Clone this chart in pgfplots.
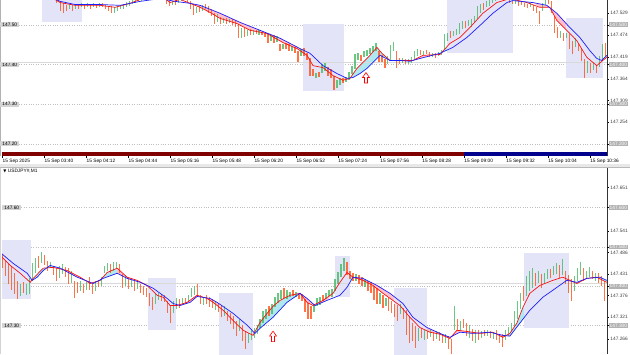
\documentclass[border=0pt]{standalone}
\usepackage{fontspec}
\setmainfont{Liberation Sans}
\newfontfamily\dejavu{DejaVu Sans}
\usepackage{pgfplots}
\pgfplotsset{compat=1.18}
\usepackage{pgfplotstable}
\usepgfplotslibrary{fillbetween}

\definecolor{cgreen}{RGB}{70,185,100}
\definecolor{cred}{RGB}{255,80,25}
\definecolor{emared}{RGB}{245,20,20}
\definecolor{emablue}{RGB}{30,30,250}
\definecolor{boxc}{RGB}{228,228,249}
\definecolor{pinkf}{RGB}{255,192,205}
\definecolor{cyanf}{RGB}{175,232,238}
\definecolor{stripred}{RGB}{128,0,0}
\definecolor{stripblue}{RGB}{0,0,140}
\definecolor{labgrey}{RGB}{212,212,212}

\newcommand\lab{\fontsize{4.8}{5.2}\selectfont}

\pgfdeclareplotmark{uparr}{%
  \pgfpathmoveto{\pgfqpoint{-1.5pt}{-5.5pt}}%
  \pgfpathlineto{\pgfqpoint{1.5pt}{-5.5pt}}%
  \pgfpathlineto{\pgfqpoint{1.5pt}{0pt}}%
  \pgfpathlineto{\pgfqpoint{3.5pt}{0pt}}%
  \pgfpathlineto{\pgfqpoint{0pt}{5pt}}%
  \pgfpathlineto{\pgfqpoint{-3.5pt}{0pt}}%
  \pgfpathlineto{\pgfqpoint{-1.5pt}{0pt}}%
  \pgfpathclose
  \pgfusepathqfillstroke}

% ---------- top panel candles: x low high up(1)/down(0)
\pgfplotstableread{
x lo hi c
56 147.556 147.576 0
60 147.536 147.561 0
63 147.531 147.556 0
66 147.534 147.551 0
69 147.539 147.554 1
72 147.536 147.551 0
75 147.541 147.554 1
78 147.539 147.554 0
81 147.544 147.556 1
84 147.541 147.554 0
87 147.544 147.556 1
90 147.541 147.554 0
93 147.544 147.556 1
96 147.544 147.554 0
99 147.546 147.556 1
102 147.544 147.556 0
105 147.541 147.551 0
108 147.536 147.549 0
111 147.531 147.549 0
114 147.531 147.546 1
117 147.536 147.549 1
120 147.539 147.551 1
123 147.541 147.554 1
126 147.546 147.559 1
129 147.549 147.561 1
132 147.554 147.566 1
135 147.556 147.571 1
138 147.561 147.574 0
141 147.559 147.571 1
144 147.566 147.581 1
150 147.581 147.597 1
156 147.586 147.602 0
162 147.571 147.586 0
166 147.554 147.569 0
169 147.549 147.561 0
172 147.551 147.561 1
175 147.551 147.564 0
178 147.556 147.569 1
181 147.561 147.576 1
184 147.566 147.581 1
187 147.556 147.571 0
190 147.541 147.561 0
193 147.526 147.554 0
196 147.531 147.546 1
199 147.534 147.549 0
202 147.536 147.551 1
205 147.539 147.554 0
208 147.531 147.549 0
211 147.523 147.541 0
214 147.503 147.529 0
217 147.506 147.526 1
220 147.503 147.521 0
223 147.506 147.518 1
226 147.503 147.518 0
229 147.506 147.516 1
232 147.501 147.516 0
235 147.496 147.511 0
238 147.466 147.503 0
241 147.468 147.493 1
244 147.468 147.491 0
247 147.473 147.488 1
250 147.476 147.491 0
253 147.473 147.486 1
256 147.476 147.486 0
259 147.473 147.486 1
262 147.473 147.483 0
265 147.471 147.481 0
268 147.455 147.478 0
271 147.460 147.476 1
274 147.455 147.473 0
277 147.458 147.471 1
280 147.435 147.453 0
283 147.440 147.453 1
286 147.440 147.455 0
289 147.435 147.453 0
292 147.435 147.448 1
295 147.430 147.445 0
298 147.405 147.435 0
301 147.420 147.438 1
304 147.423 147.443 0
307 147.410 147.430 0
310 147.372 147.418 0
313 147.372 147.390 0
316 147.367 147.380 1
319 147.370 147.382 0
322 147.380 147.403 1
325 147.385 147.405 1
328 147.372 147.395 0
331 147.367 147.390 0
334 147.335 147.372 0
337 147.340 147.360 1
340 147.347 147.365 1
343 147.355 147.367 0
346 147.357 147.370 1
349 147.360 147.380 1
352 147.375 147.395 1
355 147.390 147.428 1
358 147.410 147.430 1
361 147.410 147.425 0
364 147.420 147.435 1
367 147.423 147.438 1
370 147.428 147.443 1
373 147.433 147.448 1
376 147.435 147.455 1
379 147.405 147.435 0
382 147.405 147.423 0
385 147.392 147.415 0
388 147.403 147.423 1
391 147.410 147.448 1
394 147.435 147.458 1
397 147.392 147.435 0
400 147.400 147.415 0
403 147.405 147.418 1
406 147.403 147.415 0
409 147.403 147.415 1
412 147.405 147.420 1
415 147.415 147.435 1
418 147.423 147.440 1
421 147.425 147.438 0
424 147.423 147.435 1
427 147.428 147.438 0
430 147.420 147.433 0
433 147.420 147.430 1
436 147.418 147.430 0
439 147.423 147.433 1
442 147.425 147.438 1
445 147.440 147.478 1
448 147.460 147.481 1
451 147.468 147.486 0
454 147.471 147.486 1
457 147.476 147.491 1
460 147.478 147.506 1
463 147.491 147.511 1
466 147.493 147.511 0
469 147.498 147.513 1
472 147.496 147.516 1
475 147.506 147.523 1
478 147.516 147.549 1
481 147.531 147.554 1
484 147.536 147.554 0
487 147.546 147.561 1
490 147.549 147.566 1
493 147.556 147.571 1
496 147.561 147.576 1
500 147.571 147.586 1
505 147.576 147.591 0
510 147.556 147.569 0
513 147.554 147.561 0
516 147.554 147.566 1
519 147.549 147.561 0
522 147.551 147.559 0
525 147.546 147.556 0
528 147.544 147.554 0
531 147.546 147.556 1
534 147.536 147.551 0
537 147.531 147.546 0
540 147.503 147.536 0
543 147.536 147.556 1
546 147.551 147.566 1
549 147.554 147.569 0
552 147.529 147.561 0
555 147.481 147.523 0
558 147.466 147.493 0
561 147.468 147.486 1
564 147.460 147.481 0
567 147.466 147.481 1
570 147.440 147.478 0
573 147.428 147.460 0
576 147.445 147.466 1
579 147.435 147.455 0
582 147.410 147.443 0
585 147.367 147.415 0
588 147.380 147.410 1
591 147.380 147.405 0
594 147.385 147.403 1
597 147.380 147.400 0
600 147.395 147.423 1
603 147.410 147.453 1
606 147.423 147.455 0
}\topc

\pgfplotstableread{
x y
40 147.586
60 147.556
75 147.549
100 147.549
115 147.544
130 147.554
145 147.569
160 147.576
170 147.556
180 147.564
190 147.554
200 147.544
210 147.531
220 147.516
237 147.503
250 147.486
267 147.478
283 147.455
297 147.440
307 147.423
313 147.397
323 147.392
333 147.372
343 147.360
350 147.365
357 147.390
363 147.405
370 147.423
377 147.443
382 147.428
390 147.410
403 147.410
413 147.410
423 147.423
440 147.425
450 147.453
460 147.468
470 147.493
483 147.529
497 147.556
510 147.566
527 147.556
540 147.544
550 147.544
557 147.511
567 147.486
577 147.460
587 147.418
597 147.397
603 147.410
607 147.418
}\topred

\pgfplotstableread{
x y
40 147.581
60 147.559
75 147.551
100 147.551
120 147.549
140 147.559
160 147.566
175 147.559
190 147.554
200 147.549
220 147.529
240 147.506
260 147.486
280 147.466
300 147.440
310 147.428
323 147.397
337 147.377
347 147.365
353 147.367
360 147.377
367 147.390
373 147.405
380 147.423
390 147.410
400 147.410
410 147.408
420 147.415
440 147.428
453 147.443
467 147.468
480 147.498
493 147.529
507 147.556
513 147.561
533 147.556
547 147.549
557 147.529
570 147.493
580 147.468
590 147.435
597 147.415
602 147.410
607 147.423
}\topblue

% ---------- bottom panel candles
\pgfplotstableread{
x lo hi c
2 147.446 147.479 0
5 147.428 147.466 0
8 147.407 147.458 0
11 147.390 147.453 0
14 147.382 147.435 0
17 147.369 147.415 0
20 147.377 147.407 1
23 147.384 147.410 0
26 147.379 147.407 1
29 147.382 147.423 1
32 147.415 147.461 1
35 147.435 147.474 1
38 147.448 147.479 0
41 147.458 147.486 1
44 147.453 147.479 0
47 147.440 147.466 0
50 147.446 147.461 1
53 147.428 147.453 0
56 147.415 147.446 0
59 147.423 147.453 1
62 147.433 147.458 1
65 147.425 147.451 0
68 147.407 147.448 0
71 147.410 147.440 1
74 147.372 147.415 0
77 147.384 147.410 0
80 147.390 147.415 1
83 147.384 147.407 0
86 147.392 147.413 1
89 147.390 147.423 0
92 147.382 147.410 0
95 147.390 147.415 1
98 147.397 147.415 0
101 147.402 147.425 1
104 147.435 147.453 1
107 147.440 147.458 1
110 147.433 147.456 0
113 147.440 147.461 1
116 147.446 147.461 1
119 147.433 147.456 0
122 147.397 147.433 0
125 147.402 147.428 1
128 147.395 147.423 0
131 147.400 147.420 1
134 147.390 147.415 0
137 147.395 147.413 1
140 147.384 147.407 0
143 147.377 147.402 0
146 147.372 147.395 0
149 147.349 147.384 0
152 147.339 147.374 0
155 147.356 147.382 1
158 147.364 147.384 1
161 147.364 147.382 0
164 147.359 147.377 0
167 147.334 147.364 0
170 147.306 147.351 0
173 147.334 147.364 1
176 147.344 147.372 1
179 147.346 147.369 0
182 147.356 147.372 1
185 147.356 147.372 0
188 147.359 147.377 1
191 147.372 147.395 1
194 147.377 147.402 1
197 147.374 147.407 0
200 147.356 147.377 0
203 147.354 147.374 1
206 147.356 147.377 0
209 147.349 147.374 0
212 147.344 147.369 0
215 147.339 147.364 1
218 147.334 147.356 0
221 147.321 147.351 0
224 147.326 147.349 1
227 147.313 147.339 0
230 147.306 147.334 0
233 147.293 147.326 0
236 147.275 147.313 0
239 147.288 147.318 1
242 147.262 147.301 0
245 147.242 147.288 0
248 147.257 147.283 1
251 147.262 147.288 1
254 147.270 147.295 1
257 147.280 147.301 1
260 147.293 147.318 1
263 147.308 147.339 1
266 147.318 147.344 1
269 147.326 147.351 0
272 147.331 147.356 1
275 147.349 147.374 1
278 147.359 147.384 1
281 147.369 147.392 1
284 147.372 147.397 0
287 147.369 147.390 1
290 147.372 147.387 1
293 147.374 147.390 0
296 147.372 147.387 1
299 147.369 147.384 0
302 147.364 147.382 0
305 147.334 147.369 0
308 147.318 147.359 0
311 147.318 147.351 0
314 147.334 147.356 1
317 147.349 147.369 1
320 147.354 147.374 1
323 147.364 147.379 0
326 147.369 147.384 1
329 147.374 147.390 1
332 147.374 147.395 1
335 147.390 147.420 1
338 147.405 147.435 1
341 147.425 147.456 1
344 147.440 147.474 1
347 147.428 147.461 0
350 147.420 147.440 0
353 147.415 147.435 0
356 147.415 147.433 1
359 147.407 147.428 0
362 147.402 147.423 0
365 147.400 147.420 1
368 147.390 147.415 0
371 147.384 147.410 0
374 147.364 147.400 0
377 147.356 147.395 0
380 147.356 147.384 1
383 147.346 147.379 0
386 147.351 147.372 1
389 147.339 147.372 0
392 147.334 147.364 0
395 147.323 147.356 0
398 147.313 147.354 0
401 147.331 147.356 1
404 147.318 147.346 0
407 147.275 147.339 0
410 147.255 147.326 0
413 147.262 147.308 0
416 147.245 147.301 0
419 147.262 147.295 1
422 147.267 147.293 0
425 147.262 147.288 1
428 147.267 147.288 0
431 147.270 147.290 1
434 147.262 147.285 0
437 147.267 147.288 1
440 147.262 147.283 0
443 147.257 147.280 0
446 147.255 147.278 1
449 147.242 147.275 0
452 147.229 147.267 0
455 147.288 147.351 1
458 147.288 147.318 0
461 147.288 147.313 1
464 147.293 147.318 0
467 147.275 147.306 0
470 147.270 147.301 1
473 147.262 147.293 0
476 147.257 147.288 1
479 147.262 147.288 0
482 147.270 147.288 1
485 147.273 147.288 0
488 147.273 147.290 1
491 147.270 147.288 0
494 147.267 147.285 1
497 147.262 147.288 0
500 147.257 147.280 0
503 147.245 147.278 0
506 147.262 147.288 1
509 147.273 147.298 1
512 147.283 147.308 1
515 147.301 147.339 1
518 147.318 147.364 1
521 147.344 147.384 1
524 147.364 147.402 0
527 147.377 147.428 1
530 147.390 147.440 1
533 147.395 147.446 1
536 147.402 147.435 0
539 147.410 147.440 1
542 147.397 147.433 0
545 147.407 147.435 1
548 147.420 147.446 1
551 147.423 147.446 0
554 147.428 147.453 1
557 147.433 147.461 1
560 147.420 147.453 0
563 147.428 147.471 1
566 147.407 147.440 0
569 147.384 147.428 0
572 147.364 147.420 0
575 147.390 147.428 1
578 147.415 147.446 1
581 147.428 147.461 1
584 147.415 147.446 0
587 147.420 147.440 1
590 147.425 147.451 1
593 147.420 147.440 0
596 147.415 147.435 1
599 147.410 147.433 0
602 147.402 147.428 0
605 147.364 147.415 0
}\botc

\pgfplotstableread{
x y
0 147.479
10 147.453
20 147.433
30 147.410
33 147.420
43 147.446
53 147.448
67 147.440
80 147.423
90 147.407
100 147.415
107 147.435
117 147.446
127 147.423
137 147.415
147 147.402
157 147.377
163 147.372
170 147.351
177 147.351
187 147.359
197 147.377
207 147.369
213 147.359
223 147.339
233 147.313
243 147.288
253 147.275
260 147.308
267 147.331
273 147.349
280 147.364
290 147.377
300 147.382
307 147.359
313 147.351
323 147.364
333 147.382
340 147.410
347 147.435
353 147.423
363 147.415
373 147.402
383 147.382
400 147.351
410 147.321
420 147.295
430 147.283
440 147.278
450 147.267
457 147.288
467 147.285
480 147.280
493 147.283
503 147.270
510 147.280
517 147.306
523 147.346
530 147.382
540 147.402
553 147.415
563 147.423
570 147.415
577 147.407
587 147.420
597 147.423
603 147.415
607 147.410
}\botred

\pgfplotstableread{
x y
0 147.486
13 147.458
27 147.433
32 147.415
37 147.423
43 147.440
50 147.453
60 147.446
77 147.423
93 147.407
103 147.420
117 147.433
127 147.420
140 147.410
153 147.395
167 147.369
173 147.356
180 147.351
190 147.359
197 147.374
210 147.369
217 147.359
233 147.331
247 147.301
255 147.280
260 147.293
273 147.321
287 147.359
300 147.382
307 147.369
315 147.351
327 147.364
340 147.377
347 147.397
353 147.423
363 147.420
377 147.402
390 147.382
403 147.356
413 147.321
427 147.295
440 147.280
450 147.270
460 147.283
473 147.280
490 147.283
503 147.275
510 147.273
520 147.306
530 147.339
543 147.372
557 147.397
567 147.415
577 147.410
587 147.420
600 147.423
607 147.415
}\botblue

\pgfplotsset{
  panel/.style={scale only axis, width=605pt, xmin=2, xmax=607, anchor=south west},
  lefty/.style={axis line style={draw=none}, ytick pos=left, ytick style={draw=none},
    yticklabel style={anchor=west, font=\lab, fill=labgrey, inner xsep=2pt, inner ysep=0.8pt,
      /pgf/number format/fixed, /pgf/number format/fixed zerofill,
      /pgf/number format/precision=2, /pgf/number format/assume math mode=true},
    ymajorgrids, major grid style={dotted, gray!50, line width=0.5pt}},
  righty/.style={axis y line*=right, axis x line=none, y axis line style={black!80, line width=0.5pt},
    ytick style={black, line width=0.4pt}, tick align=outside, major tick length=2pt,
    yticklabel style={font=\lab, inner xsep=1.5pt, text=black!75,
      /pgf/number format/fixed, /pgf/number format/fixed zerofill,
      /pgf/number format/precision=3, /pgf/number format/assume math mode=true},
    extra y tick style={yticklabel style={fill=gray!60, text=white, inner sep=0.7pt}}},
  cnd/.style={draw=none, mark=none, forget plot,
    error bars/y dir=both, error bars/y explicit, error bars/error mark=none,
    error bars/error bar style={line width=1.1pt, draw=#1, opacity=0.8, solid}},
}

% band between the two averages over one x range
\newcommand\band[6]{%
  \addplot[draw=none, forget plot, name path=R#1, restrict x to domain=#2:#3] table[x=x,y=y] {#4};
  \addplot[draw=none, forget plot, name path=B#1, restrict x to domain=#2:#3] table[x=x,y=y] {#5};
  \addplot[#6, forget plot] fill between[of=R#1 and B#1];
}

\begin{document}
\begin{tikzpicture}
\path (0,0) rectangle (630pt,354pt);
% separator between the two windows
\fill[gray!18] (0,187.5pt) rectangle (630pt,190pt);
\draw[gray!55, line width=0.5pt] (0,187pt) -- (630pt,187pt);
\draw[gray!60, line width=1pt] (0.5pt,198pt) -- (0.5pt,354pt);
\draw[gray!35, line width=1pt] (0.5pt,0pt) -- (0.5pt,186pt);

% ================= TOP PANEL =================
\begin{axis}[panel, at={(2pt,198pt)}, height=156pt,
  ymin=147.1682, ymax=147.5612, lefty,
  ytick={147.2,147.3,147.4,147.5},
  xtick pos=left, xtick={2,44,86,128,170,212,254,296,338,380,422,464,506,548,590},
  xticklabels={15 Sep 2025,15 Sep 03:40,15 Sep 04:12,15 Sep 04:44,15 Sep 05:16,15 Sep 05:48,15 Sep 06:20,15 Sep 06:52,15 Sep 07:24,15 Sep 07:56,15 Sep 08:28,15 Sep 09:00,15 Sep 09:32,15 Sep 10:04,15 Sep 10:36},
  xticklabel style={anchor=north west, font=\lab, inner xsep=0.3pt, inner ysep=1pt},
  xtick style={black, line width=0.4pt}, tick align=outside, major tick length=2pt]
  % highlight boxes
  \addplot[fill=boxc, draw=none] coordinates {(42,147.508)(82,147.508)(82,147.60)(42,147.60)};
  \addplot[fill=boxc, draw=none] coordinates {(303,147.332)(344,147.332)(344,147.503)(303,147.503)};
  \addplot[fill=boxc, draw=none] coordinates {(447,147.428)(513,147.428)(513,147.60)(447,147.60)};
  \addplot[fill=boxc, draw=none] coordinates {(566,147.367)(603,147.367)(603,147.516)(566,147.516)};
  % session strip
  \addplot[fill=stripred, draw=none] coordinates {(2,147.1682)(464,147.1682)(464,147.1796)(2,147.1796)};
  \addplot[fill=stripblue, draw=none] coordinates {(464,147.1682)(607,147.1682)(607,147.1796)(464,147.1796)};
  % current price line
  \addplot[gray!30, line width=0.5pt] coordinates {(2,147.406)(607,147.406)};
  % bands between averages
  \band{t1}{185}{357}{\topred}{\topblue}{pinkf}
  \band{t2}{350}{390}{\topred}{\topblue}{cyanf}
  \band{t3}{385}{445}{\topred}{\topblue}{pinkf}
  \band{t4}{437}{537}{\topred}{\topblue}{cyanf}
  \band{t5}{530}{607}{\topred}{\topblue}{pinkf}
  % candles
  \addplot[restrict expr to domain={\thisrow{c}}{0.5:1.5}, cnd=cgreen]
    table[x=x, y expr={(\thisrow{lo}+\thisrow{hi})/2}, y error expr={(\thisrow{hi}-\thisrow{lo})/2}] {\topc};
  \addplot[restrict expr to domain={\thisrow{c}}{-0.5:0.5}, cnd=cred]
    table[x=x, y expr={(\thisrow{lo}+\thisrow{hi})/2}, y error expr={(\thisrow{hi}-\thisrow{lo})/2}] {\topc};
  % moving averages
  \addplot[emared, line width=0.7pt] table[x=x,y=y] {\topred};
  \addplot[emablue, line width=0.7pt] table[x=x,y=y] {\topblue};
  % arrow signal
  \addplot[only marks, mark=uparr, mark options={draw=red, fill=white, line width=0.6pt}] coordinates {(366,147.367)};
\end{axis}
\begin{axis}[panel, at={(2pt,198pt)}, height=156pt,
  ymin=147.1682, ymax=147.5612, righty,
  ytick={147.254,147.309,147.364,147.419,147.474,147.529},
  extra y ticks={147.2,147.3,147.4,147.5}]
  \addplot[draw=none, forget plot] coordinates {(10,147.3)(600,147.4)};
  \node[fill=black, text=white, anchor=west, inner sep=0.7pt, font=\lab, xshift=0.5pt] at (axis cs:607,147.410) {147.408};
\end{axis}

% ================= BOTTOM PANEL =================
\begin{axis}[panel, at={(2pt,0pt)}, height=186pt,
  ymin=147.227, ymax=147.700, lefty,
  ytick={147.3,147.4,147.5,147.6}, xtick=\empty]
  \addplot[fill=boxc, draw=none] coordinates {(2,147.367)(31,147.367)(31,147.517)(2,147.517)};
  \addplot[fill=boxc, draw=none] coordinates {(148,147.288)(176,147.288)(176,147.420)(148,147.420)};
  \addplot[fill=boxc, draw=none] coordinates {(219,147.20)(253,147.20)(253,147.382)(219,147.382)};
  \addplot[fill=boxc, draw=none] coordinates {(335,147.372)(350,147.372)(350,147.476)(335,147.476)};
  \addplot[fill=boxc, draw=none] coordinates {(394,147.20)(427,147.20)(427,147.395)(394,147.395)};
  \addplot[fill=boxc, draw=none] coordinates {(524,147.293)(569,147.293)(569,147.484)(524,147.484)};
  \addplot[gray!30, line width=0.5pt] coordinates {(2,147.407)(607,147.407)};
  \band{b1}{0}{33}{\botred}{\botblue}{pinkf}
  \band{b2}{30}{60}{\botred}{\botblue}{cyanf}
  \band{b3}{60}{103}{\botred}{\botblue}{pinkf}
  \band{b4}{100}{117}{\botred}{\botblue}{cyanf}
  \band{b5}{117}{257}{\botred}{\botblue}{pinkf}
  \band{b6}{253}{300}{\botred}{\botblue}{cyanf}
  \band{b7}{300}{333}{\botred}{\botblue}{pinkf}
  \band{b8}{333}{353}{\botred}{\botblue}{cyanf}
  \band{b9}{353}{517}{\botred}{\botblue}{pinkf}
  \band{b10}{510}{607}{\botred}{\botblue}{cyanf}
  \addplot[restrict expr to domain={\thisrow{c}}{0.5:1.5}, cnd=cgreen]
    table[x=x, y expr={(\thisrow{lo}+\thisrow{hi})/2}, y error expr={(\thisrow{hi}-\thisrow{lo})/2}] {\botc};
  \addplot[restrict expr to domain={\thisrow{c}}{-0.5:0.5}, cnd=cred]
    table[x=x, y expr={(\thisrow{lo}+\thisrow{hi})/2}, y error expr={(\thisrow{hi}-\thisrow{lo})/2}] {\botc};
  \addplot[emared, line width=0.7pt] table[x=x,y=y] {\botred};
  \addplot[emablue, line width=0.7pt] table[x=x,y=y] {\botblue};
  \addplot[only marks, mark=uparr, mark options={draw=red, fill=white, line width=0.6pt}] coordinates {(273,147.273)};
  \node[anchor=north west, font=\lab, inner sep=1pt] at (rel axis cs:0,1) {{\dejavu\fontsize{4}{5}\selectfont ▼} USDJPY\#,M1};
\end{axis}
\begin{axis}[panel, at={(2pt,0pt)}, height=186pt,
  ymin=147.227, ymax=147.700, righty,
  ytick={147.266,147.321,147.376,147.431,147.486,147.541,147.651},
  extra y ticks={147.3,147.4,147.5,147.6}]
  \addplot[draw=none, forget plot] coordinates {(10,147.3)(600,147.4)};
  \node[fill=black, text=white, anchor=west, inner sep=0.7pt, font=\lab, xshift=0.5pt] at (axis cs:607,147.409) {147.407};
\end{axis}
\end{tikzpicture}
\end{document}
